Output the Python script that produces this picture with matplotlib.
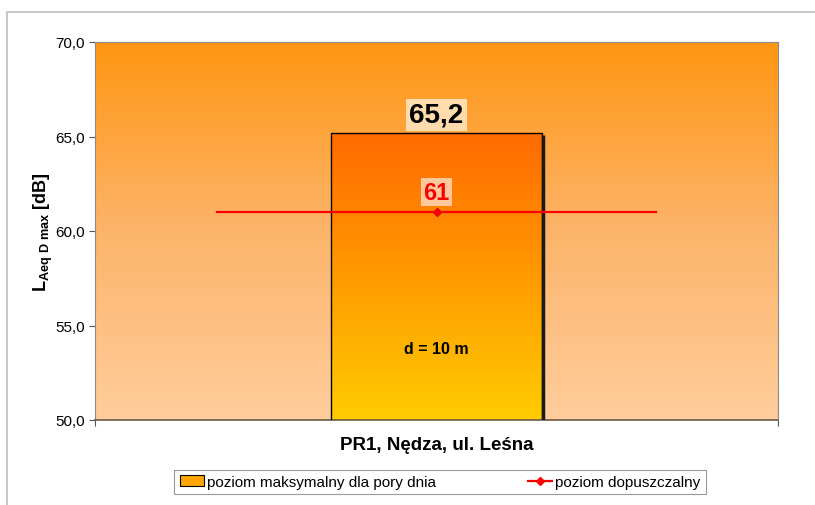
import matplotlib
matplotlib.use("Agg")
import matplotlib.pyplot as plt
import numpy as np
from matplotlib.colors import LinearSegmentedColormap
from matplotlib.lines import Line2D
from matplotlib.patches import Patch, Rectangle

plt.rcParams["font.family"] = ["Liberation Sans", "DejaVu Sans"]
plt.rcParams["mathtext.fontset"] = "custom"
plt.rcParams["mathtext.rm"] = "Liberation Sans"
plt.rcParams["mathtext.bf"] = "Liberation Sans:bold"

# data
categories = ["PR1, Nędza, ul. Leśna"]
maxLevel = [65.2]
allowedLevel = [61]
distanceLabels = ["d = 10 m"]
yTicks = [50.0, 55.0, 60.0, 65.0, 70.0]
seriesNames = ["poziom maksymalny dla pory dnia", "poziom dopuszczalny"]

fig = plt.figure(figsize=(8.15, 5.06), dpi=100)
fig.patch.set_facecolor("white")
fig.add_artist(Rectangle((7 / 815, -0.05), 1.1, 0.05 + (506 - 13) / 506, transform=fig.transFigure,
                         fill=False, edgecolor="#bdbdbd", linewidth=1.2))

ax = fig.add_axes([95 / 815, 85 / 506, 683 / 815, 378 / 506])
ax.set_xlim(-0.5, 0.5)
ax.set_ylim(yTicks[0], yTicks[-1])

# background gradient
bgCmap = LinearSegmentedColormap.from_list("bg", ["#ffcd9c", "#fcb46a", "#ff9612"])
grad = np.linspace(0, 1, 256).reshape(-1, 1)
ax.imshow(grad, cmap=bgCmap, aspect="auto", origin="lower",
          extent=[-0.5, 0.5, yTicks[0], yTicks[-1]], zorder=0)

# bar with gradient fill
barWidth = 0.309
barCmap = LinearSegmentedColormap.from_list("bar", ["#ffcc00", "#ff9a00", "#ff6a00"])
xPos = np.arange(len(categories))
bars = ax.bar(xPos, maxLevel, width=barWidth, bottom=0, facecolor="none",
              edgecolor="black", linewidth=1.0, zorder=3)
for b, v in zip(bars, maxLevel):
    im = ax.imshow(grad, cmap=barCmap, aspect="auto", origin="lower",
                   extent=[b.get_x(), b.get_x() + b.get_width(), yTicks[0], v], zorder=2)
    im.set_clip_path(b)
    ax.plot([b.get_x() + b.get_width() + 0.002] * 2, [yTicks[0], v - 0.1],
            color="#1a1a1a", linewidth=2.5, zorder=3, solid_capstyle="butt")
    ax.text(b.get_x() + b.get_width() / 2, v + 0.25, f"{v:.1f}".replace(".", ","),
            ha="center", va="bottom", fontsize=20, fontweight="bold", color="black", zorder=5,
            bbox=dict(boxstyle="square,pad=0.12", facecolor="#ffdcae", edgecolor="none"))

for x, t in zip(xPos, distanceLabels):
    ax.text(x, 53.8, t, ha="center", va="center", fontsize=11.5, fontweight="bold", zorder=5)

# allowed level line
lineHalf = 0.322
for x, v in zip(xPos, allowedLevel):
    ax.plot([x - lineHalf, x + lineHalf], [v, v], color="#ff0000", linewidth=1.6, zorder=4)
    ax.plot([x], [v], marker="D", markersize=4.5, color="#ee0000", zorder=4)
    ax.text(x, v + 0.45, str(v), ha="center", va="bottom", fontsize=17, fontweight="bold",
            color="#ff0000", zorder=5,
            bbox=dict(boxstyle="square,pad=0.12", facecolor="#ffc89c", edgecolor="none"))

ax.set_yticks(yTicks)
ax.set_yticklabels([f"{t:.1f}".replace(".", ",") for t in yTicks], fontsize=11)
ax.set_xticks([-0.5, 0.5])
ax.set_xticklabels([])
ax.tick_params(axis="both", direction="out", length=4, color="#555555")
ax.set_xlabel(categories[0], fontsize=13.5, fontweight="bold", labelpad=4)
ax.set_ylabel(r"$\mathbf{L_{Aeq\ D\ max}}$ [dB]", fontsize=13, fontweight="bold", labelpad=0)
for s in ["top", "right", "left"]:
    ax.spines[s].set_color("#8a8a8a")
    ax.spines[s].set_linewidth(0.8)
ax.spines["bottom"].set_color("#6b5a45")
ax.spines["bottom"].set_linewidth(1.2)

handles = [
    Patch(facecolor="#ffa500", edgecolor="black", linewidth=0.8),
    Line2D([0], [0], color="#ff0000", linewidth=1.6, marker="D", markersize=4),
]
leg = fig.legend(handles, seriesNames, loc="center", bbox_to_anchor=(440 / 815, 23 / 506),
                 ncol=2, fontsize=11, frameon=True, fancybox=False, handlelength=1.6,
                 handletextpad=0.2, columnspacing=6.0, borderpad=0.35, borderaxespad=0)
leg.get_frame().set_edgecolor("#808080")
leg.get_frame().set_linewidth(0.8)

fig.savefig("out.png", dpi=100)
